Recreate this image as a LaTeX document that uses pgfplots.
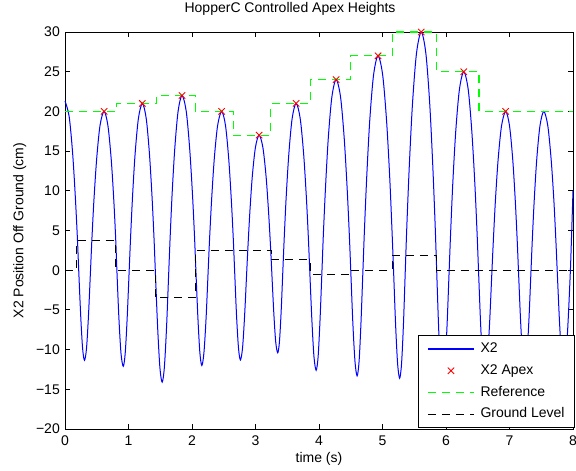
\documentclass[border=0pt]{standalone}
\usepackage{fontspec}
\setmainfont{Liberation Sans}
\usepackage{pgfplots}
\pgfplotsset{compat=1.18}
\definecolor{mblue}{rgb}{0,0,1}
\definecolor{mgreen}{rgb}{0,1,0}
\definecolor{mred}{rgb}{1,0,0}
\begin{document}
\begin{tikzpicture}
\useasboundingbox (0bp,0bp) rectangle (576bp,471bp);
\begin{axis}[
  at={(65bp,42bp)}, anchor=south west,
  scale only axis, width=508bp, height=397bp,
  xmin=0, xmax=8, ymin=-20, ymax=30,
  clip=false,
  xtick={0,1,2,3,4,5,6,7,8}, xticklabels={0,1,2,3,4,5,6,7,8},
  ytick={-20,-15,-10,-5,0,5,10,15,20,25,30},
  yticklabels={−20,−15,−10,−5,0,5,10,15,20,25,30},
  tick align=inside, xtick pos=both, ytick pos=both,
  xticklabel pos=lower, yticklabel pos=left,
  major tick length=5bp,
  axis line style={line width=0.9bp},
  every tick/.style={black, line width=0.9bp},
  font=\fontsize{14bp}{16bp}\selectfont,
  xticklabel style={anchor=base, inner sep=0pt, yshift=-16bp},
  yticklabel style={anchor=east, inner sep=0pt, xshift=-5bp},
  title={HopperC Controlled Apex Heights},
  title style={at={(axis description cs:0.443,1)}, anchor=base, inner sep=0pt, yshift=13.5bp},
  xlabel={time (s)},
  xlabel style={at={(axis description cs:0.5,0)}, anchor=base, inner sep=0pt, yshift=-33bp},
  ylabel={X2 Position Off Ground (cm)},
  ylabel style={at={(axis description cs:-0.0817,0.5)}, anchor=base, inner sep=0pt},
  legend style={at={(axis description cs:1.0039,0.0025)}, anchor=south east,
    line width=0.8bp, fill=white,
    font=\fontsize{14bp}{16bp}\selectfont,
    inner xsep=9bp, inner ysep=5.7bp, row sep=6.2bp,
    nodes={inner sep=1bp, text height=10.5bp, text depth=3bp},
    cells={anchor=west},
    /tikz/every odd column/.append style={column sep=5bp}},
  legend image code/.code={\draw[mark repeat=2,mark phase=2,#1] plot coordinates {(0bp,0bp) (23bp,0bp) (46bp,0bp)};},
]
\addplot[color=mblue, draw=mblue, line width=1bp, smooth,
  legend image code/.code={\draw[mblue, line width=1.2bp] (0bp,0bp) -- (46bp,0bp);}] coordinates {
(0,21.3) (0.065,19.38) (0.119,14.86) (0.162,9.32) (0.195,4.05) (0.216,0) (0.247,-5.68) (0.277,-9.83) (0.307,-11.35)
(0.339,-9.83) (0.370,-5.68) (0.402,0) (0.423,3.8) (0.455,8.75) (0.498,13.95) (0.551,18.2) (0.615,20)
(0.676,18.2) (0.728,13.95) (0.769,8.75) (0.799,3.8) (0.817,0) (0.849,-6.05) (0.882,-10.48) (0.917,-12.1)
(0.948,-10.48) (0.979,-6.05) (1.011,0) (1.032,3.99) (1.063,9.19) (1.104,14.65) (1.156,19.11) (1.218,21)
(1.279,19.11) (1.330,14.65) (1.371,9.19) (1.402,3.99) (1.422,0) (1.458,-7.05) (1.494,-12.21) (1.530,-14.1)
(1.565,-12.21) (1.600,-7.05) (1.635,0) (1.656,4.18) (1.687,9.63) (1.729,15.35) (1.781,20.02) (1.843,22)
(1.909,20.02) (1.963,15.35) (2.007,9.63) (2.040,4.18) (2.061,0) (2.093,-6.0) (2.124,-10.39) (2.155,-12.0)
(2.188,-10.39) (2.222,-6.0) (2.255,0) (2.276,3.8) (2.308,8.75) (2.350,13.95) (2.403,18.2) (2.467,20)
(2.528,18.2) (2.579,13.95) (2.620,8.75) (2.651,3.8) (2.671,0) (2.701,-5.65) (2.732,-9.79) (2.762,-11.3)
(2.796,-9.79) (2.829,-5.65) (2.863,0) (2.883,3.23) (2.912,7.44) (2.950,11.86) (2.999,15.47) (3.057,17)
(3.116,15.47) (3.166,11.86) (3.205,7.44) (3.235,3.23) (3.255,0) (3.287,-5.2) (3.318,-9.01) (3.350,-10.4)
(3.377,-9.01) (3.404,-5.2) (3.431,0) (3.452,3.99) (3.483,9.19) (3.525,14.65) (3.577,19.11) (3.640,21)
(3.704,19.11) (3.758,14.65) (3.801,9.19) (3.833,3.99) (3.854,0) (3.888,-6.3) (3.921,-10.91) (3.955,-12.6)
(3.986,-10.91) (4.016,-6.3) (4.047,0) (4.069,4.56) (4.103,10.5) (4.147,16.74) (4.203,21.84) (4.270,24)
(4.339,21.84) (4.396,16.74) (4.442,10.5) (4.477,4.56) (4.500,0) (4.533,-6.65) (4.567,-11.52) (4.600,-13.3)
(4.631,-11.52) (4.661,-6.65) (4.692,0) (4.716,5.13) (4.752,11.81) (4.799,18.83) (4.859,24.57) (4.930,27)
(5.003,24.57) (5.064,18.83) (5.113,11.81) (5.149,5.13) (5.174,0) (5.206,-6.8) (5.238,-11.78) (5.270,-13.6)
(5.300,-11.78) (5.330,-6.8) (5.359,0) (5.384,5.7) (5.422,13.13) (5.472,20.93) (5.535,27.3) (5.610,30)
(5.683,27.3) (5.744,20.93) (5.792,13.13) (5.829,5.7) (5.853,0) (5.884,-7.25) (5.914,-12.56) (5.945,-14.5)
(5.980,-12.56) (6.015,-7.25) (6.050,0) (6.073,4.75) (6.107,10.94) (6.153,17.44) (6.211,22.75) (6.280,25)
(6.350,22.75) (6.407,17.44) (6.454,10.94) (6.489,4.75) (6.512,0) (6.545,-6.75) (6.577,-11.69) (6.610,-13.5)
(6.648,-11.69) (6.686,-6.75) (6.724,0) (6.746,3.8) (6.778,8.75) (6.821,13.95) (6.875,18.2) (6.940,20)
(7.000,18.2) (7.051,13.95) (7.091,8.75) (7.121,3.8) (7.141,0) (7.174,-6.25) (7.207,-10.83) (7.240,-12.5)
(7.273,-10.83) (7.306,-6.25) (7.339,0) (7.359,3.8) (7.389,8.75) (7.429,13.95) (7.480,18.2) (7.540,20)
(7.603,18.2) (7.656,13.95) (7.699,8.75) (7.730,3.8) (7.751,0) (7.786,-6.25) (7.820,-10.83) (7.855,-12.5)
(7.890,-10.83) (7.924,-6.25) (7.959,0) (7.980,5.0) (8.0,10.0)
};
\addplot[color=mred, draw=mred, only marks, mark=x, mark size=4.5bp, line width=0.9bp] coordinates {
(0.615,20) (1.218,21) (1.843,22) (2.467,20) (3.057,17) (3.640,21) (4.270,24) (4.930,27) (5.610,30) (6.280,25) (6.940,20)
};
\addplot[color=mgreen, draw=mgreen, line width=1.1bp, dash pattern=on 8bp off 6bp] coordinates {
(0,20) (0.81,20) (0.81,21) (1.44,21) (1.44,22) (2.05,22) (2.05,20) (2.65,20) (2.65,17) (3.24,17) (3.24,21) (3.86,21)
(3.86,24) (4.49,24) (4.49,27) (5.16,27) (5.16,30) (5.85,30) (5.85,25) (6.52,25) (6.52,20) (8,20)
};
\addplot[color=black, draw=black, line width=1bp, dash pattern=on 8bp off 6bp] coordinates {
(0,0) (0.18,0) (0.18,3.7) (0.80,3.7) (0.80,0) (1.43,0) (1.43,-3.5) (2.05,-3.5) (2.05,2.5) (3.25,2.5) (3.25,1.3)
(3.86,1.3) (3.86,-0.5) (4.49,-0.5) (4.49,0) (5.15,0) (5.15,1.9) (5.85,1.9) (5.85,0) (8,0)
};
\legend{X2, X2 Apex, Reference, Ground Level}
\end{axis}
\end{tikzpicture}
\end{document}
